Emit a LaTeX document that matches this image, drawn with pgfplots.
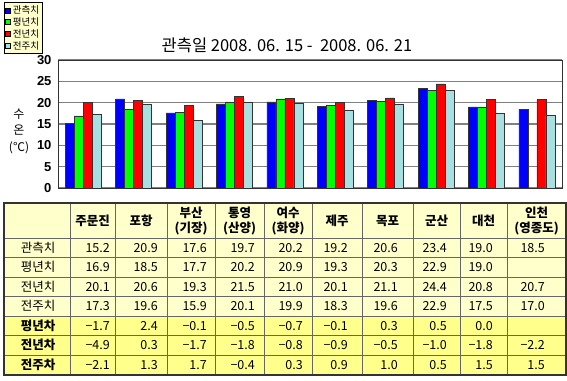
\documentclass[border=0pt]{standalone}
\usepackage{pgfplots}
\pgfplotsset{compat=1.18}
\usepackage{fontspec}
\setmainfont{Noto Sans CJK KR}
\newfontfamily\arialf{Liberation Sans}
\definecolor{cblue}{RGB}{0,0,255}
\definecolor{cgreen}{RGB}{0,255,0}
\definecolor{cred}{RGB}{255,0,0}
\definecolor{ccyan}{RGB}{168,224,226}
\definecolor{pale}{RGB}{255,255,204}
\definecolor{yel}{RGB}{255,255,140}
\pgfplotsset{sqleg/.style={legend image code/.code={\draw[##1,line width=0.5pt,draw=black] (0pt,-2.5pt) rectangle (5pt,2.5pt);}}}
\newcommand\trow[2]{%
  \foreach \v [count=\i] in {#2} {%
    \pgfmathsetmacro\xx{{110,158,207,255,303,348,398,447,493,545}[\i-1]}%
    \node[anchor=base east,inner sep=0pt] at (\xx,#1+4.5) {\v};}}
\begin{document}
\begin{tikzpicture}
\useasboundingbox (0,0) rectangle (567pt,-380pt);
\begin{scope}[x=1pt,y=-1pt,font=\fontsize{12.5}{15}\selectfont]
  \fill[pale] (4,203) rectangle (566,316);
  \fill[yel] (4,316) rectangle (566,375);
  \foreach \x in {70,115,167,215,264,312,362,413,460,507}
    \draw[black!60, line width=0.6pt] (\x,203) -- (\x,375);
  \foreach \y in {238,257.5,277,296.5,316,335.5,355}
    \draw[black!60, line width=0.6pt] (4,\y) -- (566,\y);
  \draw[black!80, line width=1.2pt] (4,203) rectangle (566,375);
  % header
  \begin{scope}[every node/.style={font=\fontsize{12.5}{15}\selectfont\bfseries, align=center, inner sep=0pt}]
    \node at (92.5,221) {주문진};
    \node at (141,221) {포항};
    \node at (191,221) {부산\\(기장)};
    \node at (239.5,221) {통영\\(산양)};
    \node at (288,221) {여수\\(화양)};
    \node at (337,221) {제주};
    \node at (387.5,221) {목포};
    \node at (436.5,221) {군산};
    \node at (483.5,221) {대천};
    \node at (536.5,221) {인천\\(영종도)};
  \end{scope}
  % row labels
  \node[anchor=base,inner sep=0pt] at (38,247.75+4.5) {관측치};
  \node[anchor=base,inner sep=0pt] at (38,267.25+4.5) {평년치};
  \node[anchor=base,inner sep=0pt] at (38,286.75+4.5) {전년치};
  \node[anchor=base,inner sep=0pt] at (38,306.25+4.5) {전주치};
  \node[anchor=base,inner sep=0pt,font=\fontsize{12.5}{15}\selectfont\bfseries] at (38,325.75+4.5) {평년차};
  \node[anchor=base,inner sep=0pt,font=\fontsize{12.5}{15}\selectfont\bfseries] at (38,345.25+4.5) {전년차};
  \node[anchor=base,inner sep=0pt,font=\fontsize{12.5}{15}\selectfont\bfseries] at (38,364.75+4.5) {전주차};
  % values
  \trow{247.75}{15.2,20.9,17.6,19.7,20.2,19.2,20.6,23.4,19.0,18.5}
  \trow{267.25}{16.9,18.5,17.7,20.2,20.9,19.3,20.3,22.9,19.0,{}}
  \trow{286.75}{20.1,20.6,19.3,21.5,21.0,20.1,21.1,24.4,20.8,20.7}
  \trow{306.25}{17.3,19.6,15.9,20.1,19.9,18.3,19.6,22.9,17.5,17.0}
  \trow{325.75}{−1.7,2.4,−0.1,−0.5,−0.7,−0.1,0.3,0.5,0.0,{}}
  \trow{345.25}{−4.9,0.3,−1.7,−1.8,−0.8,−0.9,−0.5,−1.0,−1.8,−2.2}
  \trow{364.75}{−2.1,1.3,1.7,−0.4,0.3,0.9,1.0,0.5,1.5,1.5}
  % title and y label
  \node[font=\fontsize{16.5}{19}\selectfont] at (287,45) {관측일 2008. 06. 15 -\ \ 2008. 06. 21};
  \node[font=\fontsize{12}{16.5}\selectfont, align=center] at (19,131) {수\\온\\(℃)};
\end{scope}
\begin{axis}[
  at={(58pt,-188pt)}, anchor=south west, scale only axis,
  width=504pt, height=128pt,
  xmin=-0.5, xmax=9.5, ymin=0, ymax=30,
  xtick=\empty, ytick={0,5,10,15,20,25,30},
  ymajorgrids, grid style={color=black!50, line width=1.2pt},
  major tick length=0pt,
  axis line style={black!80, line width=1pt},
  ybar=0pt, bar width=9pt,
  yticklabel style={font=\arialf\bfseries\fontsize{13}{13}\selectfont, xshift=-3pt},
  /pgf/number format/assume math mode=true,
  legend style={at={(-0.107,1.45)}, anchor=north west, draw=black, fill=pale,
    font=\fontsize{9.5}{10}\selectfont, inner sep=1pt, row sep=-1.5pt,
    /tikz/every even column/.append style={column sep=1pt}},
  legend cell align=left,
]
\addplot[fill=cblue, draw=black!80, line width=0.6pt, sqleg] coordinates {(0,15.2)(1,20.9)(2,17.6)(3,19.7)(4,20.2)(5,19.2)(6,20.6)(7,23.4)(8,19.0)(9,18.5)};
\addplot[fill=cgreen, draw=black!80, line width=0.6pt, sqleg] coordinates {(0,16.9)(1,18.5)(2,17.7)(3,20.2)(4,20.9)(5,19.3)(6,20.3)(7,22.9)(8,19.0)};
\addplot[fill=cred, draw=black!80, line width=0.6pt, sqleg] coordinates {(0,20.1)(1,20.6)(2,19.3)(3,21.5)(4,21.0)(5,20.1)(6,21.1)(7,24.4)(8,20.8)(9,20.7)};
\addplot[fill=ccyan, draw=black!80, line width=0.6pt, sqleg] coordinates {(0,17.3)(1,19.6)(2,15.9)(3,20.1)(4,19.9)(5,18.3)(6,19.6)(7,22.9)(8,17.5)(9,17.0)};
\legend{관측치,평년치,전년치,전주치}
\end{axis}
\end{tikzpicture}
\end{document}
